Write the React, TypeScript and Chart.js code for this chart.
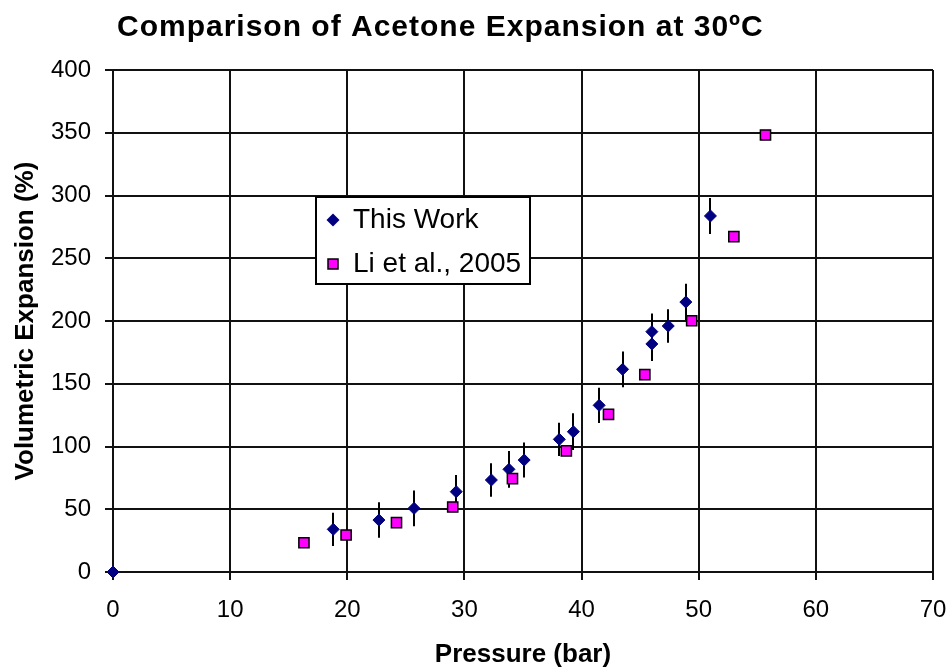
import React, { useEffect, useRef } from "react";
import { Chart, registerables } from "chart.js";

Chart.register(...registerables);

const TITLE = "Comparison of Acetone Expansion at 30ºC";
const X_TITLE = "Pressure (bar)";
const Y_TITLE = "Volumetric Expansion (%)";

const thisWorkLabel = "This Work";
const thisWorkX = [0, 18.8, 22.7, 25.7, 29.3, 32.3, 33.8, 35.1, 38.1, 39.3, 41.5, 43.5, 46.0, 46.0, 47.4, 48.9, 51.0];
const thisWorkY = [0, 34, 41.4, 50.7, 64, 73.3, 81.8, 89.2, 105.7, 111.8, 132.8, 161.5, 181.7, 191.5, 196, 215.1, 283.7];
const thisWorkErr = [0, 13.3, 14.2, 14.2, 13.3, 13.3, 14.6, 14, 13.3, 14.6, 14, 14.2, 13.5, 14.5, 13.3, 14.5, 14.3];

const liLabel = "Li et al., 2005";
const liX = [16.3, 19.9, 24.2, 29.0, 34.1, 38.7, 42.3, 45.4, 49.4, 53.0, 55.7];
const liY = [23.3, 29.5, 39.3, 51.8, 74.4, 96.5, 125.6, 157.2, 200.2, 267.2, 348.2];

const X_MIN = 0, X_MAX = 70, X_STEP = 10;
const Y_MIN = 0, Y_MAX = 400, Y_STEP = 50;

const FONT = "'Liberation Sans', Arial, sans-serif";
const NAVY = "#000080";
const MAGENTA = "#FF00FF";

const errorBarPlugin = {
  id: "errorBars",
  beforeDatasetsDraw(chart: any) {
    const ctx = chart.ctx;
    const xs = chart.scales.x;
    const ys = chart.scales.y;
    ctx.save();
    ctx.strokeStyle = "#000";
    ctx.lineWidth = 2;
    thisWorkX.forEach((xv, i) => {
      const e = thisWorkErr[i];
      if (!e) return;
      const px = Math.round(xs.getPixelForValue(xv));
      const y1 = ys.getPixelForValue(thisWorkY[i] - e);
      const y2 = ys.getPixelForValue(thisWorkY[i] + e);
      ctx.beginPath();
      ctx.moveTo(px, y1);
      ctx.lineTo(px, y2);
      ctx.stroke();
    });
    ctx.restore();
  },
};

const titleLegendPlugin = {
  id: "titleLegend",
  afterDraw(chart: any) {
    const ctx = chart.ctx;
    const area = chart.chartArea;
    ctx.save();
    // title
    ctx.fillStyle = "#000";
    ctx.font = `bold 30px ${FONT}`;
    (ctx as any).letterSpacing = "1px";
    ctx.textAlign = "left";
    ctx.textBaseline = "middle";
    ctx.fillText(TITLE, 117, 28);
    (ctx as any).letterSpacing = "0px";

    // legend box
    const lx = Math.round(area.left + (area.right - area.left) * 0.2476);
    const ly = Math.round(area.top + (area.bottom - area.top) * 0.253);
    const lw = 214;
    const lh = 87;
    ctx.fillStyle = "#fff";
    ctx.fillRect(lx, ly, lw, lh);
    ctx.strokeStyle = "#000";
    ctx.lineWidth = 2;
    ctx.strokeRect(lx, ly, lw, lh);

    const mx = lx + 17;
    const row1 = ly + 23;
    const row2 = ly + 67;
    // diamond
    ctx.fillStyle = NAVY;
    ctx.beginPath();
    ctx.moveTo(mx - 6.5, row1);
    ctx.lineTo(mx, row1 - 6.5);
    ctx.lineTo(mx + 6.5, row1);
    ctx.lineTo(mx, row1 + 6.5);
    ctx.closePath();
    ctx.fill();
    // square
    ctx.fillStyle = MAGENTA;
    ctx.fillRect(mx - 5, row2 - 5, 10, 10);
    ctx.lineWidth = 1.5;
    ctx.strokeStyle = "#000";
    ctx.strokeRect(mx - 5, row2 - 5, 10, 10);

    ctx.fillStyle = "#000";
    ctx.font = `28px ${FONT}`;
    ctx.textAlign = "left";
    ctx.textBaseline = "middle";
    ctx.fillText(chart.data.datasets[0].label, lx + 37, row1);
    ctx.fillText(chart.data.datasets[1].label, lx + 37, row2);
    ctx.restore();
  },
};

export default function App() {
  const ref = useRef<HTMLCanvasElement | null>(null);

  useEffect(() => {
    document.body.style.margin = "0";
    const canvas = ref.current;
    if (!canvas) return;
    const chart = new Chart(canvas, {
      type: "scatter",
      data: {
        datasets: [
          {
            label: thisWorkLabel,
            data: thisWorkX.map((x, i) => ({ x, y: thisWorkY[i] })),
            pointStyle: "rectRot",
            pointRadius: 6,
            pointBackgroundColor: NAVY,
            pointBorderColor: NAVY,
            pointBorderWidth: 1,
            clip: false,
            order: 1,
          },
          {
            label: liLabel,
            data: liX.map((x, i) => ({ x, y: liY[i] })),
            pointStyle: "rect",
            pointRadius: 7.2,
            pointBackgroundColor: MAGENTA,
            pointBorderColor: "#000",
            pointBorderWidth: 1.5,
            clip: false,
            order: 0,
          },
        ],
      },
      options: {
        responsive: false,
        animation: false,
        layout: { padding: { top: 70, right: 0, left: 0, bottom: 0 } },
        plugins: {
          legend: { display: false },
          tooltip: { enabled: false },
          title: { display: false },
        },
        scales: {
          x: {
            type: "linear",
            min: X_MIN,
            max: X_MAX,
            ticks: {
              stepSize: X_STEP,
              color: "#000",
              font: { family: FONT, size: 24 },
              padding: 16,
              maxRotation: 0,
            },
            grid: { color: "#111", lineWidth: 2, tickLength: 8 },
            border: { color: "#111", width: 2 },
            title: {
              display: true,
              text: X_TITLE,
              color: "#000",
              font: { family: FONT, size: 26, weight: "bold" },
              padding: { top: 0, bottom: 0 },
            },
            afterFit(scale: any) {
              scale.height = 98;
              scale.paddingLeft = 0;
              scale.paddingRight = 14;
            },
          },
          y: {
            type: "linear",
            min: Y_MIN,
            max: Y_MAX,
            ticks: {
              stepSize: Y_STEP,
              color: "#000",
              font: { family: FONT, size: 24 },
              padding: 14,
            },
            grid: { color: "#111", lineWidth: 2, tickLength: 8 },
            border: { color: "#111", width: 2 },
            title: {
              display: true,
              text: Y_TITLE,
              color: "#000",
              font: { family: FONT, size: 26, weight: "bold" },
              padding: { top: 10, bottom: 0 },
            },
            afterFit(scale: any) {
              scale.width = 113;
            },
          },
        },
      } as any,
      plugins: [errorBarPlugin, titleLegendPlugin],
    });
    return () => chart.destroy();
  }, []);

  return (
    <canvas
      ref={ref}
      width={947}
      height={670}
      style={{ display: "block", width: 947, height: 670 }}
    />
  );
}
